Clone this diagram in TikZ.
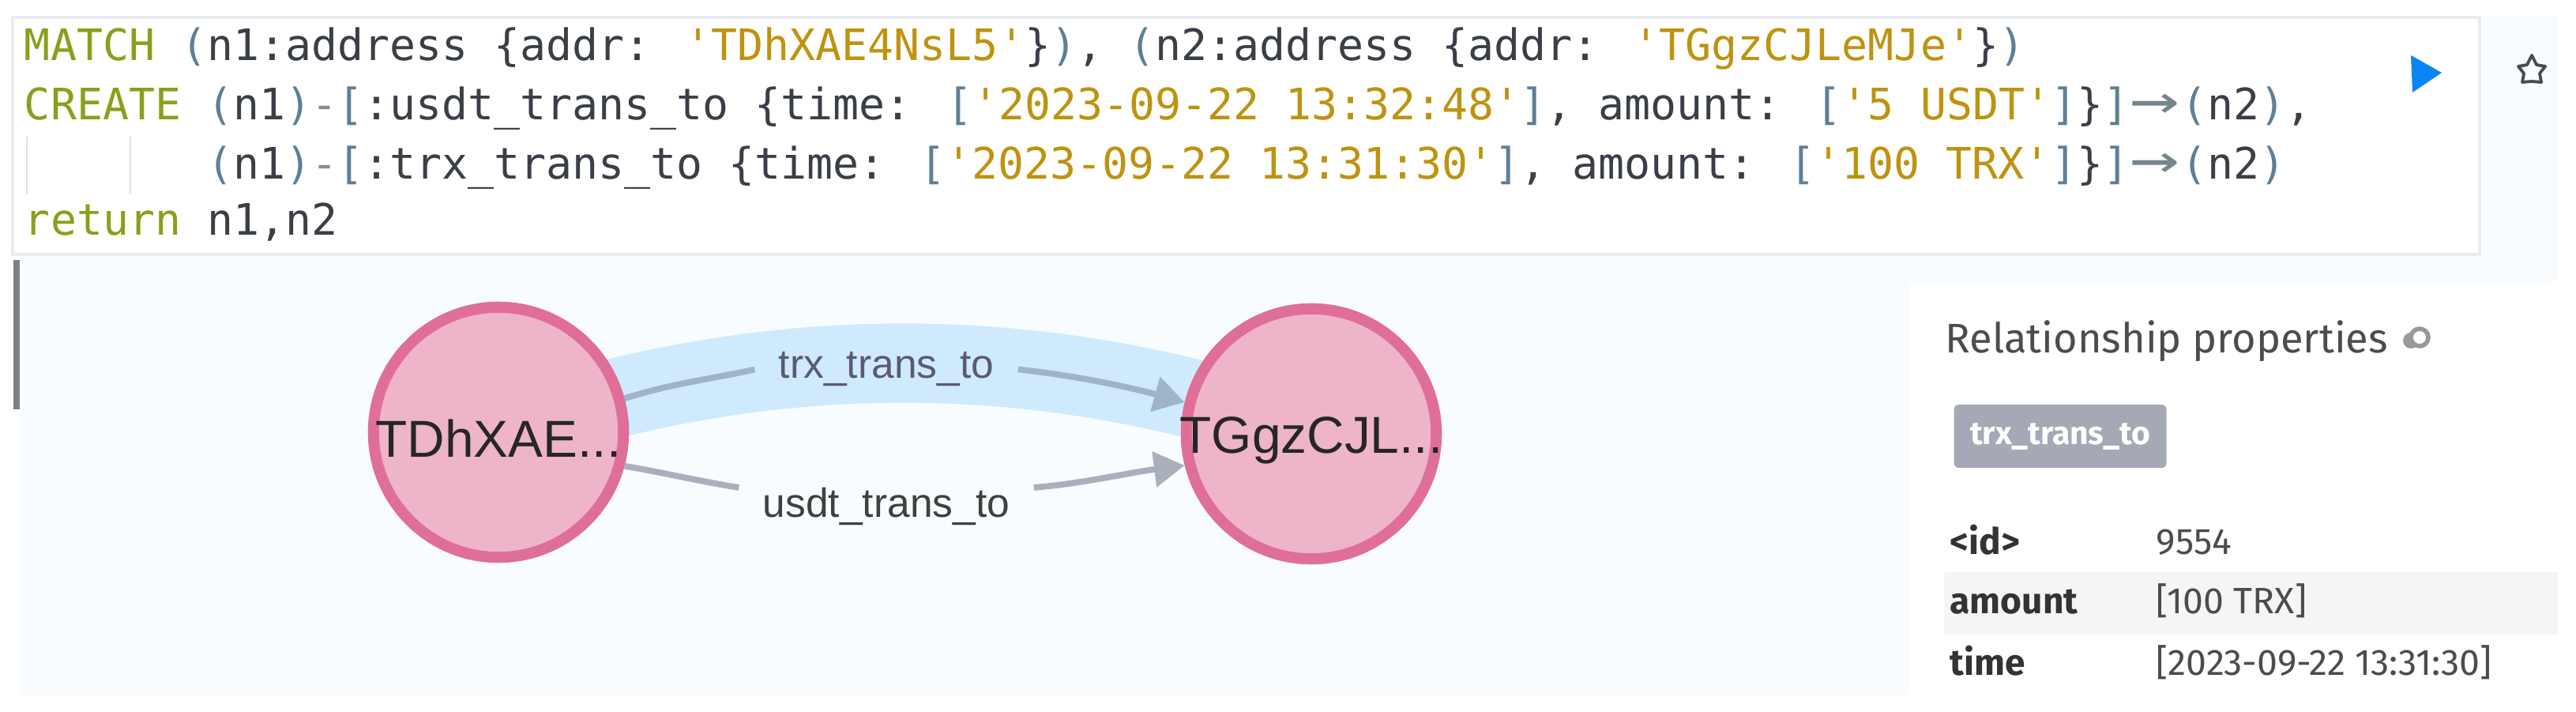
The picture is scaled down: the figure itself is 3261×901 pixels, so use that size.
\documentclass[tikz,border=0pt]{standalone}
\usepackage{fontspec}
\usetikzlibrary{arrows.meta,backgrounds}
\setmainfont{Liberation Sans}
\newfontfamily\codefont{DejaVu Sans Mono}
\newfontfamily\uifont{Fira Sans}
\definecolor{kw}{HTML}{8A9F1C}
\definecolor{str}{HTML}{BE9310}
\definecolor{pun}{HTML}{5E7F96}
\definecolor{idn}{HTML}{3A3F47}
\definecolor{canvas}{HTML}{F8FCFF}
\definecolor{ringc}{HTML}{DF6F98}
\definecolor{fillc}{HTML}{EEB4CA}
\definecolor{bandc}{HTML}{CFEAFD}
\definecolor{edgea}{HTML}{9FB4C8}
\definecolor{edgeb}{HTML}{A9B0BC}
\definecolor{badgec}{HTML}{A5A9B5}
\definecolor{frame}{HTML}{E9ECF1}
\definecolor{playc}{HTML}{0A84F5}
\definecolor{arrc}{HTML}{75858C}
\newcommand{\K}[1]{\textcolor{kw}{#1}}
\newcommand{\St}[1]{\textcolor{str}{#1}}
\newcommand{\Pn}[1]{\textcolor{pun}{#1}}
\newcommand{\Arr}{\textcolor{arrc}{\makebox[18.76pt][c]{\scalebox{1.9}[1.35]{→}}}}
\tikzset{
  x=0.01cm,y=-0.01cm,
  code/.style={anchor=base west,inner sep=0,outer sep=0,text=idn,font=\codefont\fontsize{15.6}{18}\selectfont},
  vertexc/.style={circle,draw=ringc,fill=fillc,line width=4pt,minimum size=90pt,inner sep=0},
  vertext/.style={font=\fontsize{18.7}{22}\selectfont,text=black!85,inner sep=0},
  elabel/.style={font=\fontsize{14.65}{17}\selectfont,anchor=base,inner xsep=8.5pt,inner ysep=0},
  edgeline/.style={line width=2.2pt,-{Triangle[length=11pt,width=12.5pt]}},
  edgerun/.style={line width=2.2pt},
  uititle/.style={font=\uifont\fontsize{14.9}{18}\selectfont,text=black!70,anchor=base west,inner sep=0},
  keytxt/.style={font=\uifont\bfseries\fontsize{13.1}{15}\selectfont,text=black!80,anchor=base west,inner sep=0},
  valtxt/.style={font=\uifont\fontsize{13.2}{15}\selectfont,text=black!70,anchor=base west,inner sep=0},
}
\begin{document}
\begin{tikzpicture}
\useasboundingbox (0,0) rectangle (3261,901);
% graph nodes first so that the band can be routed to them
\node[vertexc] (n1) at (631,547) {};
\node[vertexc] (n2) at (1660,549) {};
\begin{scope}[on background layer]
\fill[white] (0,0) rectangle (3261,901);
\fill[canvas] (25,323) rectangle (3238,880);
\fill[canvas] (3139,20) rectangle (3238,323);
\draw[bandc,line width=28.5pt] (n1.center) .. controls (974,430) and (1317,430) .. (n2.center);
\end{scope}
% code box
\node[draw=frame,fill=white,line width=1.2pt,inner sep=0,rectangle,minimum width=888pt,minimum height=85.5pt] (codebox) at (1577.5,172) {};
\node[code] (l1) at (31,77) {\K{MATCH} \Pn{(}n1:address \{addr: \St{'TDhXAE4NsL5'}\}\Pn{)}, \Pn{(}n2:address \{addr: \St{'TGgzCJLeMJe'}\}\Pn{)}};
\node[code] (l2) at (31,152) {\K{CREATE} \Pn{(}n1\Pn{)}\textcolor{black!45}{-}\Pn{[}:usdt\_trans\_to \{time: \Pn{[}\St{'2023-09-22 13:32:48'}\Pn{]}, amount: \Pn{[}\St{'5 USDT'}\Pn{]}\}\Pn{]}\Arr\Pn{(}n2\Pn{)},};
\node[code] (l3) at (262,227) {\Pn{(}n1\Pn{)}\textcolor{black!45}{-}\Pn{[}:trx\_trans\_to \{time: \Pn{[}\St{'2023-09-22 13:31:30'}\Pn{]}, amount: \Pn{[}\St{'100 TRX'}\Pn{]}\}\Pn{]}\Arr\Pn{(}n2\Pn{)}};
\node[code] (l4) at (31,298) {\K{return} n1,n2};
\draw[black!12,line width=0.6pt] (34,173) -- (34,245) (165,173) -- (165,245);
% run and star icons
\fill[playc] (3052,70) -- (3091,92) -- (3054,117) -- cycle;
\draw[black!70,line width=1.1pt,line join=round] (3205,70) -- (3211,82) -- (3222,84) -- (3215,93) -- (3217,104) -- (3205,103) -- (3193,104) -- (3195,93) -- (3188,84) -- (3199,82) -- cycle;
% scroll bar
\fill[black!50] (17,329) rectangle (25,518);
% graph texts and connectors
\node[vertext] (t1) at (631,555) {TDhXAE...};
\node[vertext] (t2) at (1660,557) {TGgzCJL...};
\node[elabel,text=black!60!blue!30!gray] (la) at (1122,479) {trx\_trans\_to};
\node[elabel,text=black!75] (lb) at (1122,655) {usdt\_trans\_to};
\draw[edgerun,edgea] (n1.15) .. controls (850,485) and (910,478) .. (la.west);
\draw[edgeline,edgea] (la.east) .. controls (1360,475) and (1430,490) .. (n2.166);
\draw[edgerun,edgeb] (n1.-15) .. controls (840,598) and (890,610) .. (lb.north west);
\draw[edgeline,edgeb] (lb.north east) .. controls (1370,612) and (1430,598) .. (n2.-166);
% property panel
\fill[white] (2417,356) rectangle (3238,880);
\node[uititle] (ptitle) at (2462,447) {Relationship properties};
\fill[black!40] (3052,431) circle (10);
\filldraw[draw=black!40,fill=white,line width=1.6pt] (3063,427) circle (11);
\node[fill=badgec,rounded corners=1.5pt,minimum width=76.5pt,minimum height=22.7pt,inner sep=0,text=white,font=\uifont\bfseries\fontsize{11.6}{14}\selectfont] (badge) at (2608,552) {trx\_trans\_to};
\fill[black!4] (2461,724) rectangle (3238,803);
\node[keytxt] (k1) at (2468,702) {<id>};
\node[keytxt] (k2) at (2468,777) {amount};
\node[keytxt] (k3) at (2468,854) {time};
\node[valtxt] (v1) at (2729,702) {9554};
\node[valtxt] (v2) at (2729,777) {[100 TRX]};
\node[valtxt] (v3) at (2729,854) {[2023-09-22 13:31:30]};
\end{tikzpicture}
\end{document}
